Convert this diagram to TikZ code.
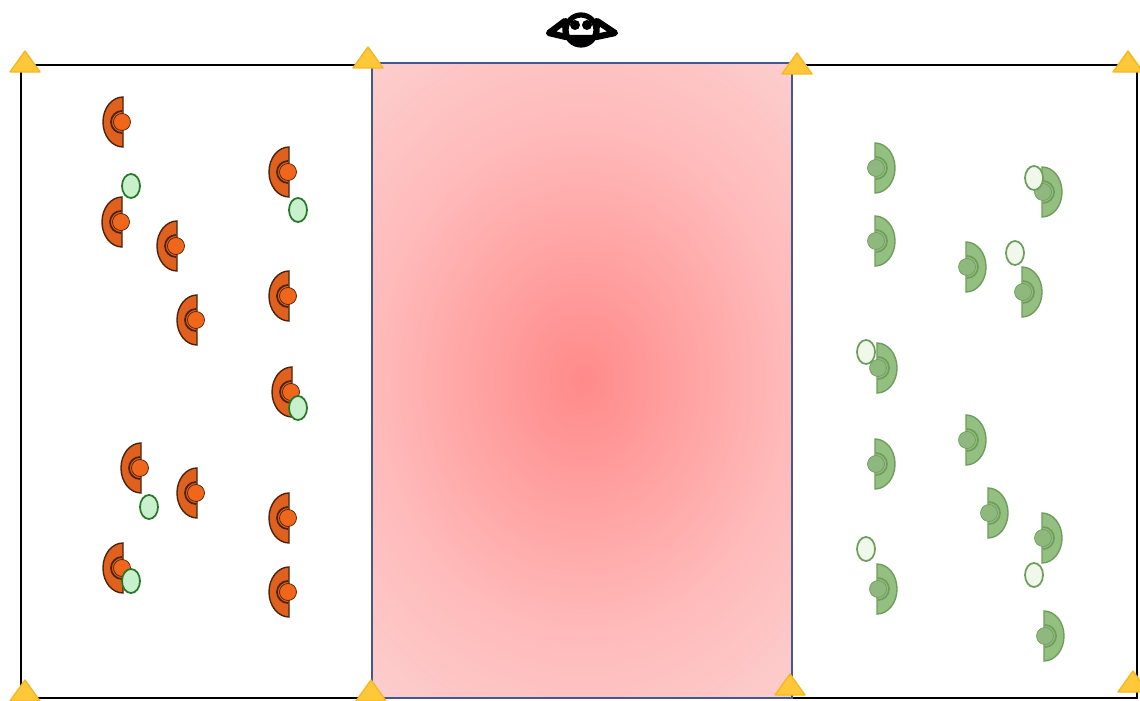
\documentclass[tikz,border=0pt]{standalone}
\usepackage{tikz}
\usetikzlibrary{arrows.meta,positioning,calc}
\definecolor{redcrescent}{HTML}{E0601E}
\definecolor{reddot}{HTML}{F0661A}
\definecolor{redline}{HTML}{4A2410}
\definecolor{greencrescent}{HTML}{93BF80}
\definecolor{greendot}{HTML}{8FB87E}
\definecolor{greenline}{HTML}{6F9E5C}
\definecolor{mint}{HTML}{C8F0CC}
\definecolor{freepale}{HTML}{F0F8EC}
\definecolor{tipfill}{HTML}{FFC83A}
\definecolor{tipedge}{HTML}{F5B81E}
\definecolor{wallblue}{HTML}{41598F}
\definecolor{glowa}{HTML}{FF8A8A}
\definecolor{glowb}{HTML}{FFA2A2}
\definecolor{glowc}{HTML}{FFBABA}
\definecolor{glowd}{HTML}{FDCACA}
\definecolor{glowe}{HTML}{FDD8D8}
\pgfdeclareradialshading{redglow}{\pgfpoint{0bp}{0bp}}{
  color(0bp)=(glowa);
  color(7bp)=(glowb);
  color(14bp)=(glowc);
  color(21bp)=(glowd);
  color(28bp)=(glowe);
  color(50bp)=(glowe)
}
\tikzset{
  pics/receptor/.style n args={3}{code={
    \path[draw=#2,fill=#1,line width=0.4pt] (1,25) arc[start angle=90,end angle=270,x radius=20,y radius=25] -- cycle;
    \path[draw=#2,line width=0.5pt] (0,11) arc[start angle=90,end angle=270,radius=11];
    \path[fill=#3,draw=#2,line width=0.2pt] (0,0) circle (8.5);
  }},
  tip/.pic={
    \path[fill=tipfill,draw=tipedge,line width=0.4pt,line join=round] (-15,-9) -- (15,-9) -- (0,12) -- cycle;
  },
  ligand/.style={draw=black!55!green!70!gray,fill=mint,line width=0.5pt},
  paleligand/.style={draw=greenline,fill=freepale,line width=0.5pt},
}
\begin{document}
\begin{tikzpicture}[x=0.01cm,y=0.01cm]
\useasboundingbox (0,0) rectangle (1140,700);
\fill[white] (0,0) rectangle (1140,700);
% gradient block
\begin{scope}
\clip (372,2) rectangle (792,637);
\shade[shading=redglow] (212,-130) rectangle (952,770);
\end{scope}
\draw[line width=0.8pt] (372,635) -- (21,635) -- (21,2) -- (372,2);
\draw[line width=0.8pt] (792,635) -- (1137,635) -- (1137,2) -- (792,2);
\draw[wallblue,line width=0.6pt] (372,2) rectangle (792,637);
% left side
\foreach \px/\py in {122/578,121/478,176/454,196/380,288/528,288/404,291/308,140/232,196/207,288/182,122/132,288/108}
  \pic at (\px,\py) {receptor={redcrescent}{redline}{reddot}};
\foreach \px/\py in {131/514,298/490,298/292,149/193,131/119}
  \draw[ligand] (\px,\py) ellipse[x radius=9,y radius=12];
% right side
\foreach \px/\py in {876/532,876/459,1043/508,967/433,1023/408,878/332,876/236,967/260,989/187,1043/162,878/111,1045/64}
  \pic[xscale=-1] at (\px,\py) {receptor={greencrescent}{greenline}{greendot}};
\foreach \px/\py in {1034/522,1015/447,866/348,866/151,1034/125}
  \draw[paleligand] (\px,\py) ellipse[x radius=9,y radius=12];
% corners
\foreach \px/\py in {25/637,368/641,797/635,1128/637,25/8,371/8,790/14,1133/17}
  \pic at (\px,\py) {tip};
% observer
\begin{scope}[shift={(581,670)}]
\draw[line width=1.8pt,line join=round,fill=white] (-16,9) -- (-32,-3) -- (-15,-7) -- cycle;
\draw[line width=1.8pt,line join=round,fill=white] (16,9) -- (34,-3) -- (15,-7) -- cycle;
\draw[line width=1.5pt,fill=white] (0,0) circle (15);
\fill (-6,5) circle (5);
\fill (6,5) circle (5);
\fill (-15,-5) arc[start angle=199,end angle=341,radius=16] -- cycle;
\end{scope}
\end{tikzpicture}
\end{document}
